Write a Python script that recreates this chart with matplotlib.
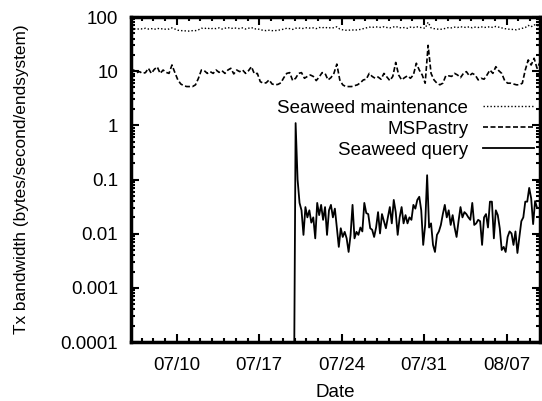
import matplotlib
matplotlib.use('Agg')
import matplotlib.pyplot as plt
import matplotlib.dates as mdates
from matplotlib.ticker import LogLocator, FuncFormatter, NullFormatter
import pandas as pd

# per-endsystem transmit bandwidth
# MSPastry and Seaweed maintenance: one sample every 6 hours from 07/06 02:00
t_slow = pd.date_range('2006-07-06 02:00', periods=140, freq='6h')

mspastry = [
    9.8, 10.5, 9.4, 9.8, 9.1, 9.4, 11.3, 9.1, 10.8, 12.0,
    9.1, 10.5, 9.5, 9.1, 13.0, 9.4, 6.9, 5.8, 5.4, 5.2,
    5.2, 5.2, 5.6, 7.4, 10.5, 10.2, 9.1, 9.8, 9.1, 10.5,
    9.5, 10.2, 9.1, 10.5, 11.3, 8.9, 10.5, 9.8, 10.5, 9.1,
    10.2, 12.1, 8.9, 9.1,
    6.4, 6.0, 6.1, 6.9, 5.8, 5.6, 5.7, 6.1, 7.6, 9.1,
    9.4, 6.7, 7.4, 9.1, 9.4, 7.4, 8.0, 8.5, 8.0, 6.7,
    7.8, 9.4, 9.1, 6.9, 7.6, 9.1, 13.5, 6.9, 5.6, 5.2,
    5.2, 5.2, 5.4, 5.6, 6.1, 6.9, 7.1, 9.1, 8.0, 7.4,
    7.8, 7.1, 9.1, 7.8, 6.7, 8.0, 14.5, 8.5,
    6.9, 7.6, 8.2, 7.4, 8.5, 14.0, 10.5, 8.5, 6.0, 30.0,
    9.1, 6.9, 6.0, 5.6, 6.0, 8.2, 8.2, 8.0, 9.1, 8.5,
    7.6, 9.1, 9.8, 8.2, 9.1, 8.5, 6.9, 7.4, 7.1, 8.5,
    10.5, 9.1, 12.1, 10.2, 9.1, 6.7, 6.0, 6.0, 5.8, 5.6,
    5.6, 6.0, 10.5, 16.1, 13.0, 17.3, 11.3, 14.5,
]

maintenance = [
    60, 61, 59, 61, 60, 62, 60, 61, 59, 62,
    60, 61, 59, 60, 63, 60, 57, 56, 56, 55,
    55, 56, 56, 58, 62, 61, 63, 60, 62, 61,
    63, 60, 62, 64, 61, 63, 62, 61, 63, 60,
    62, 64, 60, 61,
    58, 57, 56, 57, 56, 56, 57, 58, 60, 62,
    61, 59, 62, 63, 61, 62, 64, 62, 63, 61,
    64, 63, 65, 62, 64, 63, 66, 60, 58, 57,
    57, 58, 57, 58, 59, 61, 63, 65, 64, 66,
    65, 64, 66, 64, 63, 65, 67, 64,
    63, 64, 62, 65, 64, 66, 65, 63, 62, 80,
    63, 61, 60, 59, 60, 62, 64, 63, 65, 64,
    66, 65, 64, 66, 63, 65, 64, 66, 64, 65,
    66, 64, 67, 65, 63, 61, 60, 59, 59, 58,
    60, 62, 64, 70, 66, 72, 68, 74,
]

# Seaweed query: one sample every 4 hours, starts 07/19 22:00
t_query = pd.date_range('2006-07-19 22:00', periods=125, freq='4h')

query = [
    1e-6, 1.1, 0.10, 0.037, 0.027, 0.0095, 0.031, 0.020, 0.027, 0.016,
    0.020, 0.0082, 0.037, 0.022, 0.034, 0.018, 0.031, 0.0095, 0.027, 0.034,
    0.020, 0.029, 0.013, 0.0057, 0.0126, 0.0087, 0.0108, 0.0082, 0.0046, 0.0095,
    0.034, 0.0082, 0.0108, 0.0095, 0.013, 0.011, 0.037, 0.024,
    0.023, 0.0126, 0.0118, 0.0087, 0.013, 0.025, 0.0101, 0.023, 0.017, 0.0126,
    0.020, 0.031, 0.0155, 0.042, 0.025, 0.0095, 0.020, 0.031, 0.0155, 0.022,
    0.0155, 0.020, 0.018, 0.034, 0.029, 0.042, 0.048, 0.027, 0.0062, 0.0145,
    0.12, 0.013, 0.0155, 0.0062, 0.0046, 0.0095, 0.011, 0.0145, 0.023, 0.034,
    0.020, 0.027, 0.0145, 0.022,
    0.013, 0.0087, 0.017, 0.031, 0.020, 0.025, 0.023, 0.020, 0.018, 0.037,
    0.0145, 0.0155, 0.018, 0.017, 0.0062, 0.020, 0.023, 0.013, 0.039, 0.039,
    0.0082, 0.027, 0.022, 0.0126, 0.0050, 0.0057, 0.0046, 0.0087, 0.011, 0.0101,
    0.0062, 0.011, 0.0044, 0.0087, 0.017, 0.020, 0.039, 0.039, 0.07, 0.045,
    0.015, 0.04, 0.03,
]

plt.rcParams['font.family'] = ['Liberation Sans', 'DejaVu Sans']
plt.rcParams['font.size'] = 13.5

fig = plt.figure(figsize=(5.42, 4.01), dpi=100)
ax = fig.add_axes([0.2412, 0.1471, 0.7551, 0.8105])

ax.plot(t_slow, maintenance, color='k', lw=1.0, linestyle=(0, (1, 1.5)),
        label='Seaweed maintenance')
ax.plot(t_slow, mspastry, color='k', lw=1.2, linestyle=(0, (3, 1.5)),
        label='MSPastry')
ax.plot(t_query, query, color='k', lw=1.3, label='Seaweed query')

ax.set_yscale('log')
ax.set_ylim(1e-4, 100)
ax.set_xlim(t_slow[0], t_slow[-1])

ax.yaxis.set_major_locator(LogLocator(base=10, numticks=10))
ax.yaxis.set_major_formatter(FuncFormatter(lambda v, p: '%g' % v))
ax.yaxis.set_minor_locator(LogLocator(base=10, subs=range(2, 10), numticks=10))
ax.yaxis.set_minor_formatter(NullFormatter())

ax.xaxis.set_major_locator(mdates.WeekdayLocator(byweekday=mdates.MO))
ax.xaxis.set_major_formatter(mdates.DateFormatter('%m/%d'))
ax.xaxis.set_minor_locator(mdates.DayLocator())
ax.xaxis.set_minor_formatter(NullFormatter())

ax.tick_params(which='both', direction='in', top=True, right=True, width=1.5)
ax.tick_params(which='major', length=6)
ax.tick_params(which='minor', length=3)
ax.tick_params(axis='y', pad=9)
ax.tick_params(axis='x', pad=11)
for s in ax.spines.values():
    s.set_linewidth(2.5)

ax.set_xlabel('Date', labelpad=7)
ax.set_ylabel('Tx bandwidth (bytes/second/endsystem)', fontsize=12.4, labelpad=23)

ax.legend(loc='upper right', bbox_to_anchor=(0.985, 0.745), frameon=False,
          markerfirst=False, handlelength=2.7, handletextpad=0.8,
          labelspacing=0.2, borderpad=0, borderaxespad=0)

fig.savefig('out.png', dpi=100)
